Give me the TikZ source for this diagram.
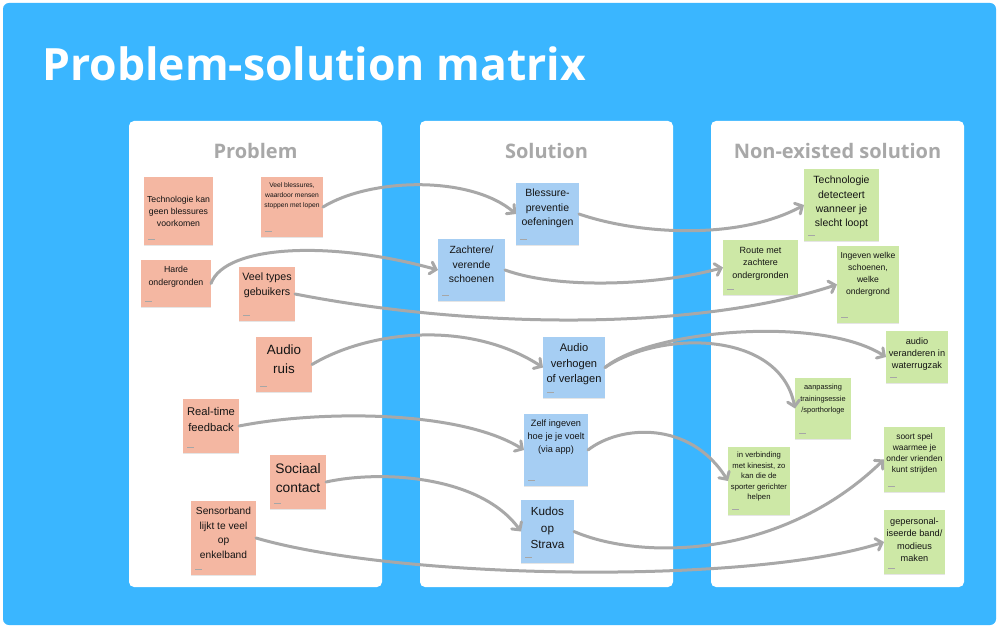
\documentclass[tikz,border=0pt]{standalone}
\usepackage{fontspec}
\setmainfont{Liberation Sans}
\newfontfamily\opensans{Open Sans}
\usetikzlibrary{arrows.meta}
\definecolor{bgblue}{RGB}{58,182,255}
\definecolor{pnote}{RGB}{244,183,162}
\definecolor{snote}{RGB}{166,206,243}
\definecolor{nnote}{RGB}{205,232,166}
\definecolor{conncol}{RGB}{168,168,168}
\definecolor{headg}{RGB}{168,168,168}
\definecolor{ntxt}{RGB}{20,20,20}
\newcommand{\nf}[2]{\fontsize{#1}{#2}\selectfont}
\tikzset{
  notebox/.style={rectangle, inner sep=0pt, outer sep=0pt,
    preaction={fill=black!10, transform canvas={yshift=-1.3pt}}},
  pn/.style={notebox, fill=pnote},
  sn/.style={notebox, fill=snote},
  nn/.style={notebox, fill=nnote},
  nt/.style={align=center, inner sep=0pt, text=ntxt},
  panel/.style={fill=white, rounded corners=5pt},
  heading/.style={text=headg, font=\opensans\bfseries\nf{20}{24}, anchor=base, inner sep=0pt},
  conn/.style={draw=conncol, line width=3pt, line cap=round,
    -{Straight Barb[length=5.5pt,width=12pt,line cap=round]}},
  tagline/.style={draw=black!35, line width=0.5pt}
}
\begin{document}
\begin{tikzpicture}[x=1pt,y=-1pt]
\useasboundingbox (0,0) rectangle (999,628);
\fill[white] (0,0) rectangle (999,628);
\fill[bgblue, rounded corners=6pt] (3,3) rectangle (996,625);

\node[anchor=base west, text=white, font=\opensans\bfseries\nf{44.5}{50}, inner sep=0pt] (title) at (42,81) {Problem-solution matrix};

% panels
\fill[panel] (129,121) rectangle (382,587);
\fill[panel] (420,121) rectangle (673,587);
\fill[panel] (711,121) rectangle (964,587);
\node[heading] (hp) at (255.5,159) {Problem};
\node[heading] (hs) at (546.5,159) {Solution};
\node[heading] (hn) at (837.5,159) {Non-existed solution};

% Problem notes
\node[pn, minimum width=69, minimum height=68] (p1) at (178.5,211) {};
\node[nt, font=\nf{8.7}{12}] (p1t) at (178.5,211) {Technologie kan\\geen blessures\\voorkomen};
\node[pn, minimum width=62, minimum height=60] (p2) at (292,207) {};
\node[nt, font=\nf{6.7}{10}] (p2t) at (292,196) {Veel blessures,\\waardoor mensen\\stoppen met lopen};
\node[pn, minimum width=70, minimum height=47] (p3) at (176,283.5) {};
\node[nt, font=\nf{8.8}{13}] (p3t) at (176,276.5) {Harde\\ondergronden};
\node[pn, minimum width=56, minimum height=54] (p4) at (267,294) {};
\node[nt, font=\nf{10.7}{15}] (p4t) at (267,285.5) {Veel types\\gebuikers};
\node[pn, minimum width=56, minimum height=55] (p5) at (284,364.5) {};
\node[nt, font=\nf{13.4}{19}] (p5t) at (284,359.5) {Audio\\ruis};
\node[pn, minimum width=56, minimum height=54] (p6) at (211,426) {};
\node[nt, font=\nf{11.2}{16}] (p6t) at (211,419) {Real-time\\feedback};
\node[pn, minimum width=56, minimum height=54] (p7) at (298,482) {};
\node[nt, font=\nf{13.8}{19}] (p7t) at (298,478.5) {Sociaal\\contact};
\node[pn, minimum width=65, minimum height=74] (p8) at (223.5,538) {};
\node[nt, font=\nf{10.2}{14.7}] (p8t) at (223.5,533) {Sensorband\\lijkt te veel\\op\\enkelband};

% Solution notes
\node[sn, minimum width=63, minimum height=62] (s1) at (547.5,214) {};
\node[nt, font=\nf{10.5}{14.5}] (s1t) at (547.5,208.5) {Blessure-\\preventie\\oefeningen};
\node[sn, minimum width=67, minimum height=62] (s2) at (471.5,270) {};
\node[nt, font=\nf{10.4}{14.5}] (s2t) at (471.5,264.5) {Zachtere/\\verende\\schoenen};
\node[sn, minimum width=62, minimum height=61] (s3) at (574,367.5) {};
\node[nt, font=\nf{11.1}{15.5}] (s3t) at (574,364.5) {Audio\\verhogen\\of verlagen};
\node[sn, minimum width=64, minimum height=72] (s4) at (556,450) {};
\node[nt, font=\nf{9.2}{13}] (s4t) at (556,437) {Zelf ingeven\\hoe je je voelt\\(via app)};
\node[sn, minimum width=53, minimum height=63] (s5) at (547.5,531.5) {};
\node[nt, font=\nf{11.7}{16.5}] (s5t) at (547.5,528) {Kudos\\op\\Strava};

% Non-existed notes
\node[nn, minimum width=75, minimum height=72] (n1) at (841.5,205) {};
\node[nt, font=\nf{10.5}{14.3}] (n1t) at (841.5,202.5) {Technologie\\detecteert\\wanneer je\\slecht loopt};
\node[nn, minimum width=75, minimum height=55] (n2) at (760.5,267.5) {};
\node[nt, font=\nf{9}{12.5}] (n2t) at (760.5,263.5) {Route met\\zachtere\\ondergronden};
\node[nn, minimum width=62, minimum height=77] (n3) at (868,284.5) {};
\node[nt, font=\nf{8.6}{12}] (n3t) at (868,274) {Ingeven welke\\schoenen,\\welke\\ondergrond};
\node[nn, minimum width=62, minimum height=52] (n4) at (917,357) {};
\node[nt, font=\nf{9.2}{12}] (n4t) at (917,354) {audio\\veranderen in\\waterrugzak};
\node[nn, minimum width=56, minimum height=61] (n5) at (823,408.5) {};
\node[nt, font=\nf{7.4}{11.5}] (n5t) at (823,399.5) {aanpassing\\trainingsessie\\/sporthorloge};
\node[nn, minimum width=62, minimum height=68] (n6) at (759,481) {};
\node[nt, font=\nf{7.7}{10.5}] (n6t) at (759,477) {in verbinding\\met kinesist, zo\\kan die de\\sporter gerichter\\helpen};
\node[nn, minimum width=61, minimum height=65] (n7) at (914.5,459.5) {};
\node[nt, font=\nf{8.4}{11.2}] (n7t) at (914.5,454) {soort spel\\waarmee je\\onder vrienden\\kunt strijden};
\node[nn, minimum width=61, minimum height=64] (n8) at (914.5,542) {};
\node[nt, font=\nf{9.2}{12.5}] (n8t) at (914.5,539.5) {gepersonal-\\iseerde band/\\modieus\\maken};

% author tags
\foreach \n in {p1,p2,p3,p4,p5,p6,p7,p8,s1,s2,s3,s4,s5,n1,n2,n3,n4,n5,n6,n7,n8}
  \draw[tagline] (\n.south west) ++(4,-6) -- ++(7,0);

% connectors
\draw[conn] (p2.east) .. controls (370,178) and (470,175) .. (s1.west);
\draw[conn] (p3.east) .. controls (225,245) and (330,240) .. (s2.west);
\draw[conn] (p4.east) .. controls (480,330) and (700,330) .. (n3.west);
\draw[conn] (s1.east) .. controls (640,235) and (740,240) .. (n1.west);
\draw[conn] (s2.east) .. controls (560,290) and (660,285) .. (n2.west);
\draw[conn] (p5.east) .. controls (370,330) and (470,320) .. (s3.west);
\draw[conn] (s3.east) .. controls (650,330) and (820,315) .. (n4.west);
\draw[conn] (s3.east) .. controls (660,330) and (780,330) .. (n5.west);
\draw[conn] (p6.east) .. controls (320,410) and (460,410) .. (s4.west);
\draw[conn] (s4.east) .. controls (620,425) and (690,420) .. (n6.west);
\draw[conn] (p7.east) .. controls (380,470) and (480,475) .. (s5.west);
\draw[conn] (s5.east) .. controls (640,560) and (780,560) .. (n7.west);
\draw[conn] (p8.east) .. controls (400,580) and (750,585) .. (n8.west);
\end{tikzpicture}
\end{document}
